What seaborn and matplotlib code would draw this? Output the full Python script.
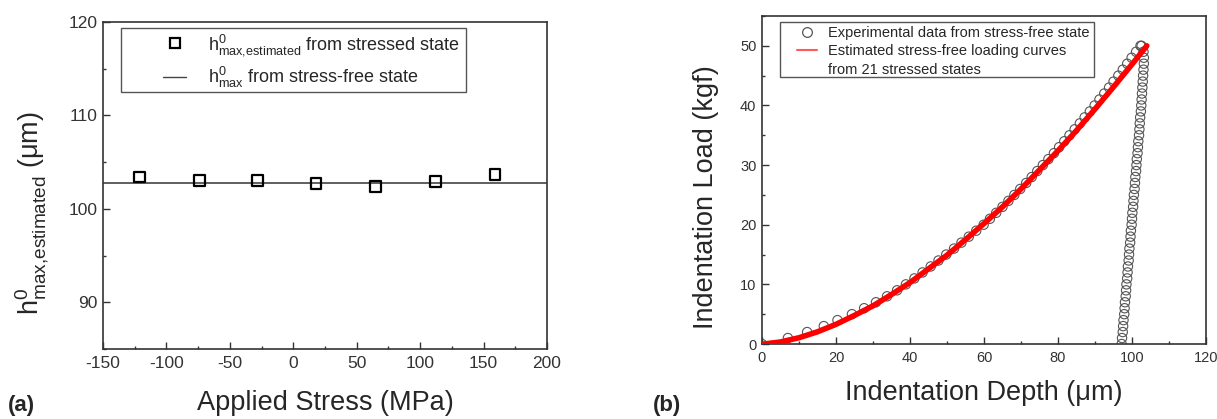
import pandas as pd
import seaborn as sns
import matplotlib.pyplot as plt
from matplotlib.lines import Line2D
from matplotlib.patches import Rectangle
from matplotlib.ticker import MultipleLocator

# (a) h0_max estimated from each stressed state
stress = [-121, -74, -28, 18, 65, 112, 159]
h_est = [103.4, 103.0, 103.0, 102.7, 102.4, 102.9, 103.7]
h_free = 102.8

# (b) stress-free indentation test, one point per kgf
load_up = list(range(0, 51))
depth_up = [0.0, 7.0, 12.2, 16.7, 20.4, 24.3, 27.6, 30.8, 33.8, 36.5,
            38.9, 41.2, 43.4, 45.6, 47.7, 49.8, 51.9, 53.9, 55.9, 57.9,
            59.9, 61.6, 63.3, 65.0, 66.6, 68.2, 69.8, 71.4, 72.9, 74.4,
            75.9, 77.4, 78.9, 80.3, 81.7, 83.1, 84.5, 85.9, 87.2, 88.6,
            89.9, 91.2, 92.5, 93.8, 95.0, 96.3, 97.5, 98.7, 99.9, 101.1,
            102.3]
load_down = list(range(50, -1, -1))
depth_down = [102.6, 103.1, 103.2, 103.2, 103.1, 103.0, 102.9, 102.8, 102.7, 102.6,
              102.5, 102.4, 102.2, 102.1, 102.0, 101.9, 101.7, 101.6, 101.5, 101.3,
              101.2, 101.1, 100.9, 100.8, 100.7, 100.5, 100.4, 100.3, 100.1, 100.0,
              99.9, 99.7, 99.6, 99.5, 99.3, 99.2, 99.1, 98.9, 98.8, 98.7,
              98.5, 98.4, 98.3, 98.1, 98.0, 97.9, 97.7, 97.6, 97.5, 97.3,
              97.2]

# estimated stress-free loading curve (red band)
est_depth = [0.5, 5, 10, 15, 20, 25, 30, 35, 40, 45, 50, 55, 60, 65, 70,
             75, 80, 85, 90, 95, 100, 104]
est_load = [0.0, 0.34, 1.05, 2.05, 3.3, 4.8, 6.4, 8.3, 10.3, 12.6, 14.9, 17.5, 20.2, 23.0, 26.0,
            29.2, 32.4, 35.8, 39.4, 43.1, 46.9, 50.0]

sns.set_style('ticks')
plt.rcParams['font.family'] = ['Liberation Sans', 'DejaVu Sans']
plt.rcParams['mathtext.default'] = 'regular'
plt.rcParams['axes.unicode_minus'] = False

W, H = 1217, 419
fig = plt.figure(figsize=(W / 100, H / 100), dpi=100)
ax1 = fig.add_axes([103 / W, 1 - 349 / H, 444 / W, 327 / H])
ax2 = fig.add_axes([762 / W, 1 - 344 / H, 444 / W, 328 / H])

sub_est = r'$h^{0}_{max{,}estimated}$'
sub_max = r'$h^{0}_{max}$'

# ---- panel (a)
df_a = pd.DataFrame({'stress': stress, 'h': h_est})
ax1.axhline(h_free, color='#444444', lw=1.2, zorder=1)
sns.scatterplot(data=df_a, x='stress', y='h', marker='s', s=60,
                edgecolor='black', linewidth=1.6, ax=ax1, zorder=3)
ax1.collections[-1].set_facecolor('none')
ax1.set_xlim(-150, 200)
ax1.set_ylim(85, 120)
ax1.xaxis.set_major_locator(MultipleLocator(50))
ax1.xaxis.set_minor_locator(MultipleLocator(25))
ax1.yaxis.set_major_locator(MultipleLocator(10))
ax1.yaxis.set_minor_locator(MultipleLocator(5))
ax1.set_xlabel('Applied Stress (MPa)', fontsize=19.5, va='top')
ax1.set_ylabel(sub_est + ' (μm)', fontsize=19.5)
ax1.xaxis.set_label_coords(0.5, -0.125)
ax1.yaxis.set_label_coords(-0.117, 0.416)

hd_a = [Line2D([], [], ls='none', marker='s', ms=7.5, mfc='none', mec='black', mew=1.6),
        Line2D([], [], color='#444444', lw=1)]
lb_a = [sub_est + ' from stressed state', sub_max + ' from stress-free state']
ax1.legend(hd_a, lb_a, loc='upper left', bbox_to_anchor=(0.135, 0.969), frameon=False,
           fontsize=13, handlelength=1.3, handletextpad=1.2, borderpad=0,
           borderaxespad=0, labelspacing=0.4)
ax1.add_patch(Rectangle((0.0405, 0.786), 0.777, 0.196, transform=ax1.transAxes,
                        fill=False, ec='#555555', lw=1, zorder=5))

# ---- panel (b)
df_up = pd.DataFrame({'depth': depth_up, 'load': load_up})
df_down = pd.DataFrame({'depth': depth_down, 'load': load_down})
df_est = pd.DataFrame({'depth': est_depth, 'load': est_load})
for d in (df_up, df_down):
    sns.scatterplot(data=d, x='depth', y='load', marker='o', s=45,
                    edgecolor='#555555', linewidth=0.8, ax=ax2, zorder=2)
    ax2.collections[-1].set_facecolor('none')
sns.lineplot(data=df_est, x='depth', y='load', color='red', lw=4, ax=ax2, zorder=3)
ax2.set_xlim(0, 120)
ax2.set_ylim(0, 55)
ax2.xaxis.set_major_locator(MultipleLocator(20))
ax2.xaxis.set_minor_locator(MultipleLocator(10))
ax2.yaxis.set_major_locator(MultipleLocator(10))
ax2.yaxis.set_minor_locator(MultipleLocator(5))
ax2.set_xlabel('Indentation Depth (μm)', fontsize=19.5, va='top')
ax2.set_ylabel('Indentation Load (kgf)', fontsize=19.5)
ax2.xaxis.set_label_coords(0.5, -0.110)
ax2.yaxis.set_label_coords(-0.097, 0.447)

hd_b = [Line2D([], [], ls='none', marker='o', ms=7, mfc='none', mec='#555555', mew=0.9),
        Line2D([], [], color='#ff5a5a', lw=1.5),
        Line2D([], [], color='none')]
lb_b = ['Experimental data from stress-free state', 'Estimated stress-free loading curves',
        'from 21 stressed states']
ax2.legend(hd_b, lb_b, loc='upper left', bbox_to_anchor=(0.0788, 0.97), frameon=False,
           fontsize=10.5, handlelength=1.4, handletextpad=0.75, borderpad=0,
           borderaxespad=0, labelspacing=0.3)
ax2.add_patch(Rectangle((0.0405, 0.815), 0.707, 0.168, transform=ax2.transAxes,
                        fill=False, ec='#555555', lw=1, zorder=5))

# shared styling
for ax, fs in ((ax1, 12.5), (ax2, 10.5)):
    for sp in ax.spines.values():
        sp.set_color('#333333')
        sp.set_linewidth(1.2)
    ax.tick_params(which='major', direction='in', length=5, width=1, colors='#333333',
                   labelsize=fs, pad=5)
    ax.tick_params(which='minor', direction='in', length=2.5, width=1, colors='#333333')
    ax.tick_params(axis='y', pad=4)

fig.text(8 / W, 1 - 411 / H, '(a)', fontsize=16, fontweight='bold', va='baseline')
fig.text(653 / W, 1 - 411 / H, '(b)', fontsize=16, fontweight='bold', va='baseline')

plt.savefig('out.png', dpi=100)
